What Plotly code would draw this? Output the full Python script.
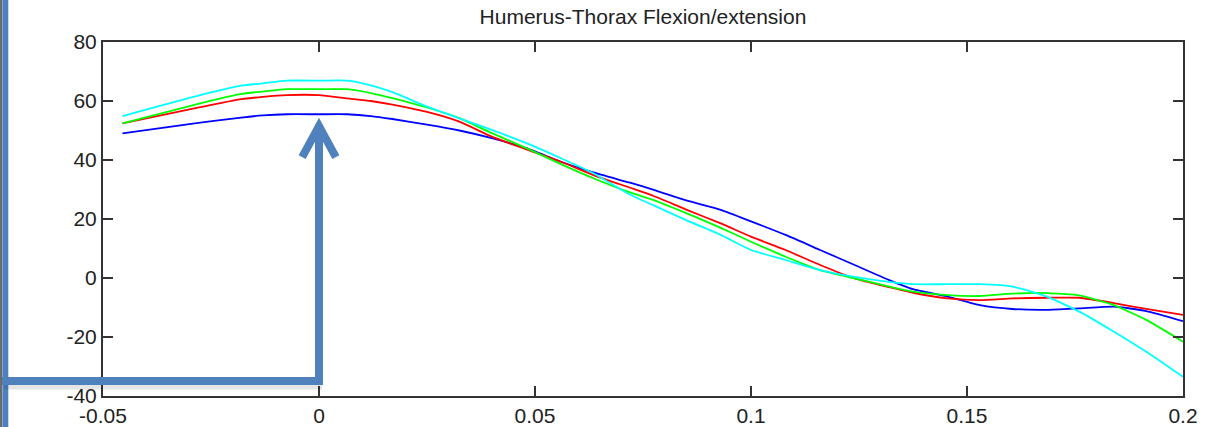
import plotly.graph_objects as go

# ---- data ----
x_vals = [-0.0455, -0.0275, -0.018, -0.013, -0.0075, 0.0, 0.0065, 0.012, 0.017, 0.025,
          0.0325, 0.04, 0.048, 0.056, 0.0635, 0.072, 0.0775, 0.085, 0.093, 0.1,
          0.108, 0.116, 0.124, 0.132, 0.1375, 0.1455, 0.153, 0.1605, 0.1685, 0.176,
          0.184, 0.1915, 0.2]

blue = [49.0, 52.7, 54.4, 55.1, 55.5, 55.5, 55.5, 54.9, 53.9, 52.0,
        50.0, 47.4, 44.0, 39.4, 35.8, 32.3, 29.9, 26.3, 23.1, 19.2,
        14.6, 9.5, 4.4, -0.7, -3.8, -6.3, -9.2, -10.5, -10.8, -10.3,
        -9.7, -11.2, -14.6]

red = [52.4, 57.9, 60.6, 61.4, 62.0, 62.0, 60.9, 60.0, 58.8, 56.3,
       53.0, 47.9, 43.6, 39.4, 34.9, 30.6, 27.8, 23.2, 18.5, 14.0,
       9.5, 4.4, -0.1, -3.1, -5.0, -6.9, -7.5, -6.9, -6.7, -6.7,
       -8.5, -10.5, -12.5]

green = [52.4, 59.2, 62.4, 63.2, 64.0, 64.0, 64.0, 62.7, 61.0, 57.8,
         54.2, 49.1, 44.0, 38.6, 33.8, 29.0, 26.4, 22.0, 17.0, 12.3,
         7.2, 2.7, -0.1, -2.9, -4.6, -5.8, -6.1, -5.3, -5.1, -5.9,
         -9.2, -14.2, -21.6]

cyan = [54.9, 62.0, 65.2, 66.0, 66.9, 66.9, 66.9, 65.3, 63.0, 58.1,
        54.1, 50.2, 45.7, 40.6, 35.5, 28.2, 24.6, 19.6, 14.6, 9.5,
        6.1, 2.7, 0.4, -1.3, -2.1, -2.1, -2.1, -2.9, -6.3, -11.4,
        -18.2, -25.0, -33.5]

series_names = ["blue", "red", "green", "cyan"]
series_values = [blue, red, green, cyan]
series_colors = ["#0000FF", "#FF0000", "#00FF00", "#00FFFF"]

x_ticks = [-0.05, 0, 0.05, 0.1, 0.15, 0.2]
x_ticktext = ["-0.05", "0", "0.05", "0.1", "0.15", "0.2"]
y_ticks = [-40, -20, 0, 20, 40, 60, 80]
y_ticktext = ["-40", "-20", "0", "20", "40", "60", "80"]

x_range = [-0.05, 0.2]
y_range = [-40, 80]

title_text = "Humerus-Thorax Flexion/extension"

# arrow annotation (data units): points to the peak at x=0
arrow_x = 0.0
arrow_tip_y = 51.5
arrow_base_y = -34.9
arrow_head_dx = 0.0039
arrow_head_dy = 10.5

# ---- figure ----
W, H = 1217, 427
ML, MR, MT, MB = 103, 34, 42, 31
PW, PH = W - ML - MR, H - MT - MB

fig = go.Figure()
for name, vals, col in zip(series_names, series_values, series_colors):
    fig.add_trace(go.Scatter(x=x_vals, y=vals, mode="lines", name=name,
                             line=dict(color=col, width=1.8, shape="spline", smoothing=0.5),
                             showlegend=False, hoverinfo="skip"))

def px_(xd):
    return (xd - x_range[0]) / (x_range[1] - x_range[0])

def py_(yd):
    return (yd - y_range[0]) / (y_range[1] - y_range[0])

def pix_x(p):
    return (p - ML) / PW

def pix_y(p):
    return (H - MB - p) / PH

arrow_col = "#4F81BD"
shapes = []
# left edge frame
shapes.append(dict(type="line", xref="paper", yref="paper",
                   x0=pix_x(1), x1=pix_x(1), y0=pix_y(0), y1=pix_y(H),
                   line=dict(color="#6b6b6b", width=2)))
shapes.append(dict(type="line", xref="paper", yref="paper",
                   x0=pix_x(5.3), x1=pix_x(5.3), y0=pix_y(0), y1=pix_y(H),
                   line=dict(color=arrow_col, width=6)))
# shadow under horizontal arrow segment
shapes.append(dict(type="line", xref="paper", yref="paper",
                   x0=pix_x(4), x1=px_(arrow_x) + 3 / PW,
                   y0=py_(arrow_base_y) - 6 / PH, y1=py_(arrow_base_y) - 6 / PH,
                   line=dict(color="rgba(0,0,0,0.10)", width=5)))
# horizontal segment
shapes.append(dict(type="line", xref="paper", yref="paper",
                   x0=pix_x(2), x1=px_(arrow_x) + 4 / PW,
                   y0=py_(arrow_base_y), y1=py_(arrow_base_y),
                   line=dict(color=arrow_col, width=8)))
# vertical segment
shapes.append(dict(type="line", xref="paper", yref="paper",
                   x0=px_(arrow_x), x1=px_(arrow_x),
                   y0=py_(arrow_base_y) - 4 / PH, y1=py_(arrow_tip_y) - 3 / PH,
                   line=dict(color=arrow_col, width=8)))
# arrow head (open chevron)
hx0 = px_(arrow_x - arrow_head_dx)
hx1 = px_(arrow_x)
hx2 = px_(arrow_x + arrow_head_dx)
hy0 = py_(arrow_tip_y - arrow_head_dy)
hy1 = py_(arrow_tip_y)
shapes.append(dict(type="path", xref="paper", yref="paper",
                   path=f"M {hx0} {hy0} L {hx1} {hy1} L {hx2} {hy0}",
                   line=dict(color=arrow_col, width=8)))

font_family = "Liberation Sans, Arial, sans-serif"
axis_common = dict(showline=True, mirror="ticks", linecolor="#333333", linewidth=2,
                   ticks="inside", ticklen=10, tickwidth=2, tickcolor="#333333",
                   showgrid=False, zeroline=False, automargin=False,
                   tickfont=dict(family=font_family, size=21, color="#222222"))

fig.update_layout(
    template="none",
    width=W, height=H,
    margin=dict(l=ML, r=MR, t=MT, b=MB, pad=0, autoexpand=False),
    paper_bgcolor="white", plot_bgcolor="white",
    title=dict(text=title_text, x=0.5, xref="paper", xanchor="center",
               y=1 - 17 / H, yref="container", yanchor="middle",
               font=dict(family=font_family, size=21, color="#222222")),
    xaxis=dict(range=x_range, tickvals=x_ticks, ticktext=x_ticktext, **axis_common),
    yaxis=dict(range=y_range, tickvals=y_ticks, ticktext=y_ticktext, **axis_common),
    shapes=shapes,
)

fig.write_html("out.html",
               config={"displayModeBar": False},
               post_script="document.body.style.margin='0';document.body.style.overflow='hidden';")
